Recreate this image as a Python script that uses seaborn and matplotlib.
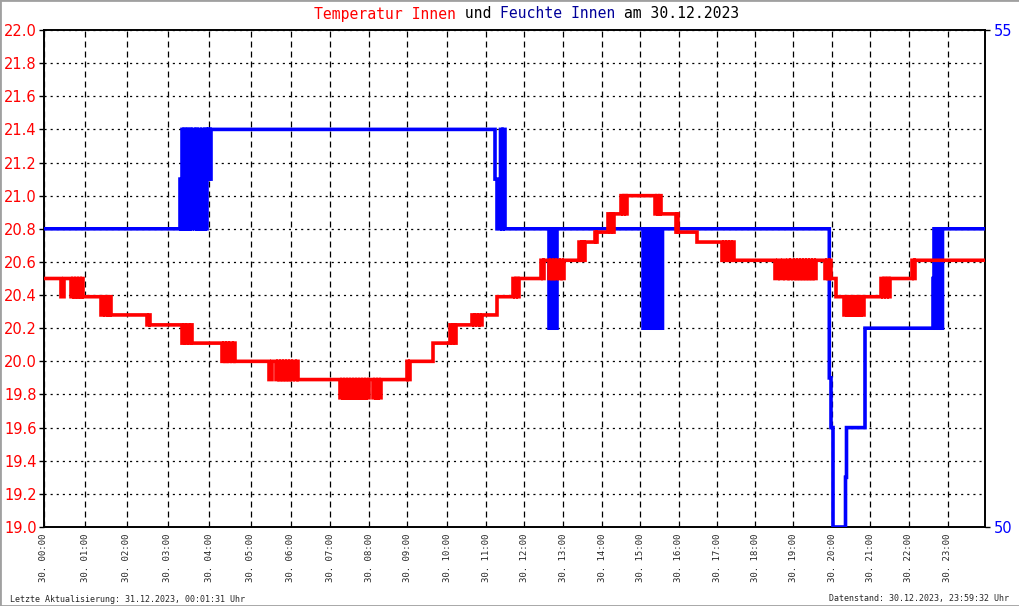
import matplotlib
matplotlib.use("Agg")
import matplotlib.pyplot as plt
import seaborn as sns
import pandas as pd
from matplotlib.patches import Rectangle

# ---------------- data ----------------
# x axis = sample index (0 = 30.12. 00:00 ... 941 = 23:59:32), samples are irregular in time
temp_steps = [
    (0, 20.5), (17, 20.39), (20, 20.5),
    (27, 20.39), (29, 20.5), (30, 20.39), (32, 20.5), (33, 20.39), (35, 20.5), (36, 20.39), (38, 20.5), (39, 20.39),
    (57, 20.28), (59, 20.39), (61, 20.28), (63, 20.39), (64, 20.28), (66, 20.39), (67, 20.28),
    (103, 20.22), (105, 20.28), (106, 20.22),
    (138, 20.11), (140, 20.22), (141, 20.11), (143, 20.22), (145, 20.11), (147, 20.22), (148, 20.11),
    (178, 20.0), (180, 20.11), (181, 20.0), (183, 20.11), (184, 20.0), (186, 20.11), (188, 20.0), (190, 20.11), (191, 20.0),
    (225, 19.89), (228, 20.0), (232, 19.89), (234, 20.0), (235, 19.89), (237, 20.0), (238, 19.89), (240, 20.0),
    (241, 19.89), (243, 20.0), (244, 19.89), (246, 20.0), (247, 19.89), (249, 20.0), (251, 19.89), (253, 20.0), (254, 19.89),
    (296, 19.78), (298, 19.89), (299, 19.78), (301, 19.89), (302, 19.78), (304, 19.89), (305, 19.78), (307, 19.89),
    (308, 19.78), (310, 19.89), (311, 19.78), (313, 19.89), (314, 19.78), (316, 19.89), (317, 19.78), (319, 19.89),
    (320, 19.78), (322, 19.89), (323, 19.78), (325, 19.89), (329, 19.78), (331, 19.89), (332, 19.78), (334, 19.89),
    (335, 19.78), (337, 19.89),
    (363, 20.0), (364, 19.89), (366, 20.0),
    (389, 20.11),
    (406, 20.22), (408, 20.11), (409, 20.22), (411, 20.11), (412, 20.22),
    (428, 20.28), (430, 20.22), (431, 20.28), (433, 20.22), (435, 20.28), (436, 20.22), (438, 20.28),
    (453, 20.39),
    (469, 20.5), (471, 20.39), (472, 20.5), (474, 20.39), (475, 20.5),
    (497, 20.61), (499, 20.5), (500, 20.61),
    (505, 20.5), (507, 20.61), (508, 20.5), (510, 20.61), (511, 20.5), (513, 20.61), (515, 20.5), (517, 20.61),
    (518, 20.5), (520, 20.61),
    (535, 20.72), (537, 20.61), (538, 20.72), (540, 20.61), (541, 20.72),
    (551, 20.78), (552, 20.72), (553, 20.78),
    (564, 20.89), (566, 20.78), (567, 20.89), (569, 20.78), (570, 20.89),
    (577, 21.0), (579, 20.89), (580, 21.0), (582, 20.89), (583, 21.0),
    (611, 20.89), (613, 21.0), (614, 20.89), (616, 21.0), (617, 20.89),
    (632, 20.78), (633, 20.89), (634, 20.78),
    (653, 20.72),
    (678, 20.61), (680, 20.72), (681, 20.61), (683, 20.72), (684, 20.61), (686, 20.72), (687, 20.61), (689, 20.72), (690, 20.61),
    (731, 20.5), (734, 20.61), (736, 20.5), (739, 20.61), (741, 20.5), (744, 20.61), (745, 20.5), (747, 20.61),
    (749, 20.5), (751, 20.61), (752, 20.5), (754, 20.61), (755, 20.5), (757, 20.61), (758, 20.5), (760, 20.61),
    (761, 20.5), (763, 20.61), (764, 20.5), (766, 20.61), (767, 20.5), (769, 20.61), (770, 20.5), (772, 20.61),
    (781, 20.5), (783, 20.61), (784, 20.5), (786, 20.61), (787, 20.5),
    (792, 20.39),
    (800, 20.28), (802, 20.39), (803, 20.28), (805, 20.39), (806, 20.28), (808, 20.39), (809, 20.28), (811, 20.39),
    (812, 20.28), (814, 20.39), (815, 20.28), (817, 20.39), (818, 20.28), (820, 20.39),
    (837, 20.5), (839, 20.39), (840, 20.5), (842, 20.39), (843, 20.5), (845, 20.39), (846, 20.5),
    (868, 20.61), (870, 20.5), (871, 20.61),
    (941, 20.61),
]

hum_steps = [
    (0, 53),
    (136, 53.5), (137, 53), (138, 54), (139, 53), (140, 54), (142, 53), (143, 54), (144, 53), (146, 54), (147, 53), (148, 54),
    (151, 53), (152, 54), (153, 53), (155, 54), (156, 53), (158, 54), (159, 53), (161, 54), (162, 53), (163, 54),
    (164, 53.5), (165, 54), (166, 53.5), (167, 54),
    (451, 53.5), (453, 53), (456.5, 54), (458, 53), (459, 54), (461, 53),
    (505, 52), (507, 53), (508, 52), (510, 53), (511, 52), (513, 53),
    (599, 52), (600.5, 53), (602, 52), (603.5, 53), (605, 52), (606.5, 53), (608, 52), (609.5, 52.5), (610.5, 53),
    (611, 52), (612.5, 53), (614, 52), (615.5, 53), (617, 52), (618.5, 53),
    (785.3, 51.5), (787, 51), (789, 50), (801.5, 50.5), (802.5, 51), (821, 52),
    (889, 52.5), (890, 53), (891, 52), (892.5, 53), (894, 52), (895.5, 53), (897, 52), (898.5, 53),
    (941, 53),
]

tick_pos = [0, 41.3, 82.7, 123.7, 165.3, 206.7, 246.7, 286.3, 325.3, 363.3, 403.3, 442.3,
            480.3, 519.3, 558.3, 596.3, 635, 673.3, 711.3, 749.3, 788.3, 826.3, 865, 903.7]
tick_labels = ["30. 00:00", "30. 01:00", "30. 02:00", "30. 03:00", "30. 04:00", "30. 05:00",
               "30. 06:00", "30. 07:00", "30. 08:00", "30. 09:00", "30. 10:00", "30. 11:00",
               "30. 12:00", "30. 13:00", "30. 14:00", "30. 15:00", "30. 16:00", "30. 17:00",
               "30. 18:00", "30. 19:00", "30. 20:00", "30. 21:00", "30. 22:00", "30. 23:00"]
temp_ticks = [19.0, 19.2, 19.4, 19.6, 19.8, 20.0, 20.2, 20.4, 20.6, 20.8, 21.0, 21.2, 21.4, 21.6, 21.8, 22.0]
hum_ticks = [50, 55]

title_parts = [("Temperatur Innen", "#ff0000"), (" und ", "#000000"),
               ("Feuchte Innen", "#000099"), (" am 30.12.2023", "#000000")]
footer_left = "Letzte Aktualisierung: 31.12.2023, 00:01:31 Uhr"
footer_right = "Datenstand: 30.12.2023, 23:59:32 Uhr"

# ---------------- style ----------------
sns.set_style("white")
plt.rcParams["font.family"] = ["DejaVu Sans"]
plt.rcParams["lines.scale_dashes"] = False
plt.rcParams["path.simplify"] = False
MONO = ["DejaVu Sans Mono"]

W, H = 1020, 606
fig = plt.figure(figsize=(W / 100, H / 100), dpi=100)
fig.patch.set_facecolor("white")

ax = fig.add_axes([44 / W, 1 - 527 / H, (985 - 44) / W, (527 - 30) / H])
ax2 = ax.twinx()   # humidity
ax3 = ax.twinx()   # temperature line on top

df_t = pd.DataFrame(temp_steps, columns=["idx", "temp"])
df_h = pd.DataFrame(hum_steps, columns=["idx", "hum"])

line_kw = dict(linewidth=2.6, drawstyle="steps-post", sort=False, estimator=None,
               solid_joinstyle="miter", solid_capstyle="butt")
sns.lineplot(data=df_h, x="idx", y="hum", ax=ax2, color="#0000ff", **line_kw)
sns.lineplot(data=df_t, x="idx", y="temp", ax=ax3, color="#ff0000", **line_kw)
for a in (ax2, ax3):
    for ln in a.get_lines():
        ln.set_snap(False)

for a in (ax, ax2, ax3):
    a.set_xlim(0, 941)
    a.set_xlabel("")
    a.set_ylabel("")
ax.set_ylim(19.0, 22.0)
ax3.set_ylim(19.0, 22.0)
ax2.set_ylim(50, 55)

# grid on host axes
ax.set_yticks(temp_ticks)
ax.set_yticklabels([f"{v:.1f}" for v in temp_ticks])
ax.set_xticks(tick_pos)
ax.set_xticklabels(tick_labels, rotation=90, va="top", ha="center", fontsize=6.5,
                   family=MONO)
ax.grid(axis="y", color="black", linewidth=0.9, linestyle=(0, (1.5, 2.9)))
ax.grid(axis="x", color="black", linewidth=0.9, linestyle=(0, (4.3, 2.9)))
ax.set_axisbelow(True)

ax.tick_params(axis="x", length=0, pad=4.5)
ax.tick_params(axis="y", which="both", direction="out", length=3.6, width=1, color="black",
               labelcolor="#ff0000", labelsize=10.5, pad=1.5)

ax2.set_yticks(hum_ticks)
ax2.set_yticklabels([str(v) for v in hum_ticks])
ax2.tick_params(axis="y", direction="out", length=3.6, width=1, color="black",
                labelcolor="#0000ff", labelsize=10.5, pad=3)
ax2.grid(False)

ax3.set_yticks([])
ax3.tick_params(right=False, labelright=False, left=False, labelleft=False)
ax3.grid(False)

for s in ax.spines.values():
    s.set_visible(True)
    s.set_color("black")
    s.set_linewidth(1.4)
for a in (ax2, ax3):
    for s in a.spines.values():
        s.set_visible(False)

# ---------------- title (multi-coloured) ----------------
renderer = fig.canvas.get_renderer()
title_size = 10.6
texts = []
widths = []
for txt, col in title_parts:
    t = fig.text(0, 1 - 18.5 / H, txt, color=col, fontsize=title_size, family=MONO,
                 va="baseline", ha="left")
    texts.append(t)
    bb = t.get_window_extent(renderer=renderer)
    widths.append(bb.width)
total_chars = sum(len(p[0]) for p in title_parts)
char_w = sum(widths) / total_chars
x0 = 526.5 - total_chars * char_w / 2
pos = 0
for t, (txt, col) in zip(texts, title_parts):
    t.set_x((x0 + pos * char_w) / W)
    pos += len(txt)

# ---------------- footer ----------------
fig.text(10 / W, 1 - 599 / H, footer_left, fontsize=6, family=MONO, va="center", ha="left")
fig.text(1009 / W, 1 - 599 / H, footer_right, fontsize=6, family=MONO, va="center", ha="right")

# figure border
fig.patches.append(Rectangle((0, 0), 1, 1, transform=fig.transFigure, fill=False,
                             edgecolor="#a0a0a0", linewidth=2.0))

fig.savefig("out.png", dpi=100, facecolor="white")
